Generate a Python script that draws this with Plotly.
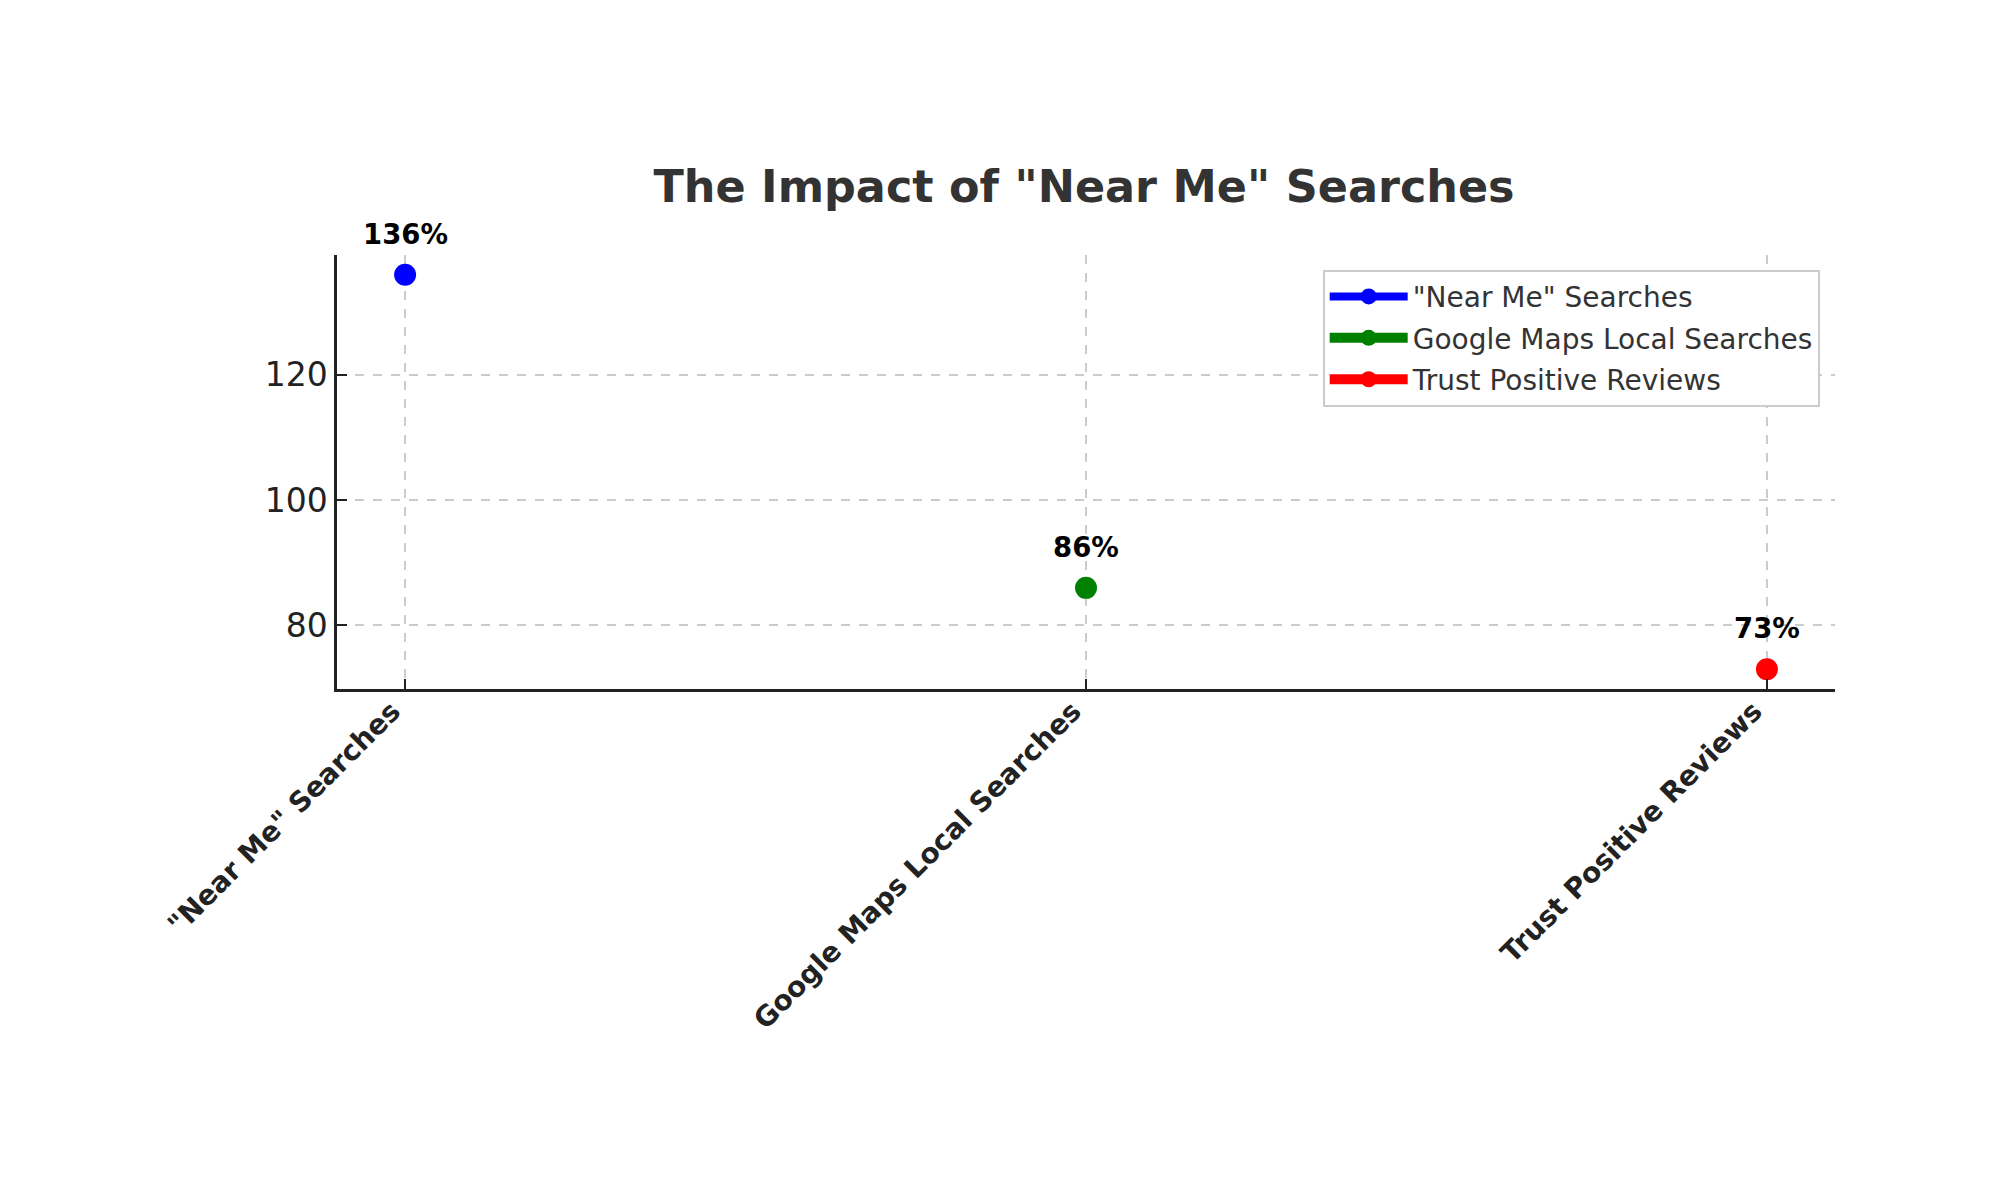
import plotly.graph_objects as go

categories = ['"Near Me" Searches', 'Google Maps Local Searches', 'Trust Positive Reviews']
values = [136, 86, 73]
labels = ['136%', '86%', '73%']
colors = ['blue', 'green', 'red']
legend_line_widths = [8, 13, 19]

FONT = "DejaVu Sans"
fig = go.Figure()
for i, (c, v, col) in enumerate(zip(categories, values, colors)):
    fig.add_trace(go.Scatter(
        x=[c], y=[v], mode="lines+markers", name=c,
        legendgroup=str(i),
        line=dict(color=col, width=legend_line_widths[i]),
        marker=dict(color=col, size=22),
    ))
    fig.add_annotation(x=c, y=v, text=f"<b>{labels[i]}</b>", showarrow=False,
                       yshift=41, font=dict(family=FONT, size=27.5, color="black"))

fig.update_layout(
    width=2000, height=1200,
    margin=dict(l=337, r=165, t=255, b=511),
    paper_bgcolor="white", plot_bgcolor="white",
    font=dict(family=FONT, color="#222"),
    title=dict(text="<b>The Impact of \"Near Me\" Searches</b>", x=0.542, xanchor="center",
               y=1 - 186 / 1200, yanchor="middle",
               font=dict(family=FONT, size=44.5, color="#333333")),
    legend=dict(x=0.658, y=0.966, xanchor="left", yanchor="top",
                bgcolor="white", bordercolor="#cccccc", borderwidth=2,
                font=dict(family=FONT, size=28, color="#333333"),
                itemwidth=78, tracegroupgap=2),
    showlegend=True,
)
fig.update_xaxes(
    type="category", categoryorder="array", categoryarray=categories,
    range=[-0.1, 2.1], showline=True, linecolor="#222", linewidth=2.5,
    ticks="inside", ticklen=10, tickwidth=2, tickcolor="#222",
    tickangle=-45, tickfont=dict(family=FONT, size=28, color="#222", weight="bold"),
    ticklabelshift=-13, ticklabelstandoff=-8,
    showgrid=True, gridcolor="#cccccc", gridwidth=1.5, griddash="dash",
    zeroline=False, mirror=False,
)
fig.update_yaxes(
    range=[69.85, 139.15], tickvals=[80, 100, 120],
    showline=True, linecolor="#222", linewidth=2.5,
    ticks="inside", ticklen=10, tickwidth=2, tickcolor="#222",
    tickfont=dict(family=FONT, size=33, color="#222"),
    showgrid=True, gridcolor="#cccccc", gridwidth=1.5, griddash="dash",
    zeroline=False,
)
fig.write_html("out.html")
